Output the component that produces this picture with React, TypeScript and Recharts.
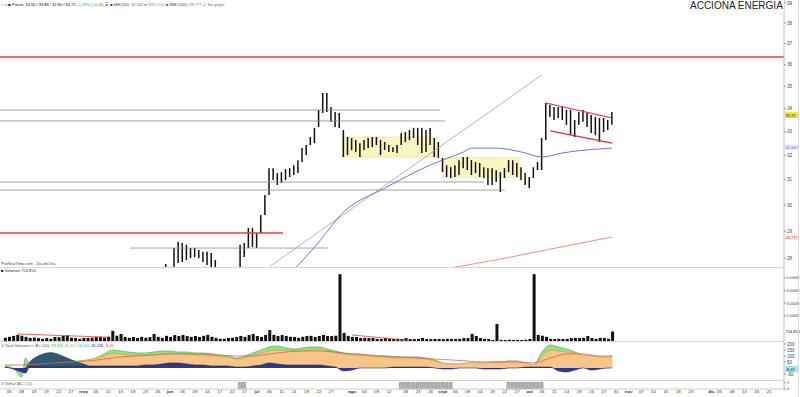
import React from "react"
import {
  Area,
  Bar,
  ComposedChart,
  Line,
  ReferenceArea,
  ReferenceLine,
  XAxis,
  YAxis,
} from "recharts"

const FONT = "Liberation Sans, Arial, sans-serif"
const X_DOMAIN: [number, number] = [-1.2, 188.6]

// ---- price bars (bar index 39 onwards; earlier bars sit below the visible range)
const PRICE_START = 39
const highs: (number | null)[] = [
  27.79, null, 28.37, 28.6, 28.56, 28.49, 28.37, 28.37, 28.3, 28.23, 28.23, 28.19, 27.93,
  null, null, null, null, null,
  28.49, 28.56, 29.12, 29.12, 28.93, 29.61, 30.39, 31.47, 31.47, 31.27, 31.31, 31.43, 31.47,
  31.59, 31.8, 32.3, 32.43, 32.77, 33.16, 33.94, 34.7, 34.7, 34.07, 33.85, 33.81, 33.07,
  32.77, 32.73, 32.64, 32.51, 32.64, 32.73, 32.77, 32.77, 32.64, 32.56, 32.43, 32.34, 32.43,
  32.94, 32.98, 33.07, 33.16, 33.16, 33.16, 33.07, 33.16, 32.73, 32.56,
  31.89, 31.59, 31.51, 31.59, 31.8, 31.93, 31.93, 31.8, 31.72, 31.68, 31.51, 31.47, 31.47,
  31.39, 31.31, 31.47, 31.8, 31.8, 31.68, 31.51, 31.27, 31.11, 31.51, 31.72, 32.73, 34.25,
  34.16, 34.07, 34.07, 34.07, 33.94, 33.94, 33.5, 33.85, 33.94, 33.81, 33.72, 33.63, 33.59,
  33.59, 33.5, 33.85,
]
const lows: (number | null)[] = [
  27.5, null, 27.6, 27.82, 27.86, 27.93, 28.0, 28.04, 28.0, 27.86, 27.75, 27.6, 27.6,
  null, null, null, null, null,
  27.6, 28.04, 28.37, 28.41, 28.37, 28.93, 29.61, 30.39, 30.99, 30.79, 30.87, 30.99, 31.11,
  31.19, 31.27, 31.72, 32.01, 32.43, 32.51, 33.2, 33.81, 33.85, 33.42, 33.2, 33.16, 31.93,
  32.01, 32.22, 32.14, 31.93, 32.22, 32.3, 32.34, 32.43, 32.01, 32.22, 32.14, 32.14, 32.1,
  32.43, 32.56, 32.64, 32.73, 32.43, 32.1, 32.14, 32.43, 31.93, 31.89,
  31.31, 31.11, 31.07, 31.11, 31.19, 31.47, 31.39, 31.19, 31.27, 31.11, 31.07, 30.79, 30.79,
  30.91, 30.51, 31.07, 31.31, 31.19, 31.11, 30.99, 30.79, 30.67, 31.07, 31.39, 31.39, 32.64,
  33.63, 33.5, 33.59, 33.5, 33.29, 32.85, 32.77, 33.29, 33.42, 33.2, 32.94, 32.85, 32.56,
  32.98, 33.07, 33.29,
]

// moving averages (read at a few bars)
const ma50Idx = [69, 71, 75, 82, 92, 103, 111, 113, 119, 125, 130, 135, 147]
const ma50Val = [27.45, 27.75, 28.41, 29.73, 30.67, 31.6, 32.14, 32.3, 32.3, 32.14, 31.93, 32.1, 32.3]
const ma200Idx = [104, 120, 132, 147]
const ma200Val = [27.55, 27.97, 28.33, 28.78]

const priceTicks = [28, 29, 30, 31, 32, 33, 34, 35, 36, 37, 38, 39]

// drawn annotations: [price, fromBar, toBar]
const redLevels = [
  [36.36, -1.2, 188.6],
  [28.93, -1.2, 67.3],
]
const grayLevels = [
  [33.94, -1.2, 105.3],
  [33.46, -1.2, 106.5],
  [30.91, -1.2, 116],
  [30.59, -1.2, 121],
  [28.37, 30.3, 78.2],
]
// [fromBar, fromPrice, toBar, toPrice]
const grayTrends = [[64.2, 27.71, 130, 35.52]]
const redChannel = [
  [131, 34.25, 147, 33.59],
  [132, 33.03, 147, 32.51],
]
// [fromBar, toBar, lowPrice, highPrice]
const yellowBoxes = [
  [81.6, 104.6, 31.93, 32.77],
  [106, 124.5, 31.1, 31.9],
]

// ---- volume (thousands)
const volumes = [
  260, 330, 410, 480, 420, 330, 250, 270, 230, 170, 240, 180, 320, 300, 390, 450, 260, 240, 170, 250,
  230, 260, 310, 330, 270, 340, 800, 420, 560, 330, 250, 320, 240, 330, 260, 310, 560, 330, 250, 410,
  330, 470, 400, 480, 390, 330, 400, 320, 410, 490, 330, 250, 170, 180, 240, 260, 320, 400, 330, 480,
  560, 400, 330, 480, 870, 480, 400, 470, 400, 330, 320, 250, 330, 400, 410, 320, 400, 480, 400, 390,
  420, 5300, 640, 410, 330, 320, 240, 250, 230, 240, 170, 160, 240, 170, 160, 180, 160, 230, 160, 150,
  170, 240, 160, 150, 170, 160, 150, 170, 160, 150, 170, 240, 230, 560, 400, 240, 170, 160, 80, 1350,
  90, 80, 100, 80, 90, 80, 100, 160, 5300, 480, 420, 330, 170, 160, 180, 160, 170, 240, 250, 230,
  250, 400, 240, 170, 250, 240, 170, 755,
]
const volTicks = [2000, 3000, 4000, 5000]
const volRedLines = [
  [3, 560, 25, 300],
  [84, 480, 98, 40],
]

// ---- accumulated volume indicator
const indIdx = [
  0, 2, 4, 5, 6, 8, 10, 12, 14, 16, 18, 20, 22, 24, 26, 28, 30, 32, 34, 36, 38, 40, 42, 44, 46, 48,
  50, 52, 54, 56, 58, 60, 62, 64, 66, 68, 70, 72, 74, 76, 78, 80, 82, 84, 86, 88, 90, 92, 94, 96, 98,
  100, 102, 104, 106, 108, 110, 112, 114, 116, 118, 120, 122, 124, 126, 128, 130, 132, 134, 136, 138,
  140, 142, 144, 146, 147,
]
const indGreen = [
  17, 0, -75, 83, 30, 50, 50, 50, 55, 55, 58, 67, 83, 117, 150, 142, 133, 125, 125, 133, 142, 142,
  133, 133, 125, 125, 117, 108, 100, 83, 100, 125, 150, 175, 183, 167, 158, 167, 175, 175, 158, 142,
  125, 117, 117, 108, 100, 100, 92, 92, 92, 92, 83, 67, 42, 33, 33, 42, 42, 42, 50, 50, 58, 58, 42,
  25, 133, 192, 175, 158, 133, 108, 100, 92, 92, 100,
]
const indOrange = [
  null, null, null, null, null, null, null, null, null, 50, 58, 67, 83, 100, 125, 117, 108, 108, 108,
  108, 117, 125, 117, 117, 108, 108, 100, 92, 92, 75, 83, 108, 125, 142, 150, 142, 142, 142, 150, 150,
  142, 125, 117, 108, 108, 100, 92, 92, 83, 83, 83, 83, 75, 58, 42, 33, 33, 42, 42, 42, 50, 50, 58, 58,
  42, 25, 100, 150, 142, 133, 125, 108, 100, 92, 92, 100,
]
const indNavy = [
  8, -8, -33, -42, 10, 10, 10, 10, 10, 10, 12, 17, 17, 17, 17, 17, 17, 17, 25, 25, 33, 42, 42, 33, 25,
  25, 17, 17, 17, 8, 8, 17, 25, 42, 33, 25, 25, 25, 25, 25, 17, 8, -25, -17, 0, 0, 0, 0, 8, 8, 8, 8, 8,
  0, -8, -8, 0, 0, 0, -8, -8, -8, 0, 0, 8, 8, 8, 8, -25, -33, -17, 0, -17, -8, 0, 0,
]
const tealIdx = [5, 6, 8, 10, 11, 12, 14, 16, 18, 20, 21]
const tealVal = [0, 50, 100, 125, 130, 125, 100, 70, 45, 20, 0]
const redIdx = [
  0, 4, 8, 12, 16, 20, 24, 28, 32, 36, 40, 44, 48, 52, 56, 60, 64, 68, 72, 76, 80, 84, 88, 92, 96,
  100, 104, 108, 112, 116, 120, 124, 128, 132, 136, 140, 144, 147,
]
const redVal = [
  25, 25, 33, 42, 50, 58, 75, 92, 100, 108, 117, 117, 117, 108, 100, 100, 117, 133, 142, 142, 133,
  117, 108, 100, 92, 83, 75, 67, 58, 50, 50, 50, 42, 83, 117, 117, 100, 100,
]
const indTicks = [-50, 50, 100, 150, 200]

// ---- signal bars
const signalIdx = [57, 58, 96, 97, 98, 99, 100, 101, 102, 103, 104, 105, 106, 107, 108, 122, 123, 124, 125, 126, 127, 128, 129, 130]

// ---- date axis
const tickIdx = [
  1, 4, 7, 10, 13, 16, 19, 22, 25, 28, 31, 34, 37, 40, 43, 46, 49, 52, 55, 58, 61, 64, 67, 70, 73, 76,
  79, 84, 87, 90, 93, 97, 100, 103, 106, 109, 112, 115, 118, 121, 124, 127, 130, 133, 136, 139, 142,
  145, 148, 151, 154, 157, 160, 163, 166, 171, 173, 176, 179, 182, 185,
]
const tickLab = [
  "05", "08", "13", "19", "22", "27", "may", "05", "10", "13", "18", "23", "26", "jun", "06", "09",
  "14", "17", "22", "27", "jul", "06", "11", "14", "19", "22", "27", "ago", "04", "09", "12", "18",
  "23", "26", "sept", "06", "09", "14", "19", "22", "27", "oct", "06", "11", "14", "19", "24", "27",
  "31", "nov", "07", "10", "15", "18", "23", "dic", "05", "08", "13", "16", "21",
]

const priceRows = volumes.map((v, i) => {
  const k = i - PRICE_START
  const hi = k >= 0 ? highs[k] : null
  const lo = k >= 0 ? lows[k] : null
  const m50 = ma50Idx.indexOf(i)
  const m200 = ma200Idx.indexOf(i)
  return {
    i,
    hl: hi != null && lo != null ? [lo, hi] : null,
    ma50: m50 >= 0 ? ma50Val[m50] : null,
    ma200: m200 >= 0 ? ma200Val[m200] : null,
  }
})
const volRows = volumes.map((vol, i) => ({ i, vol }))

const indMap = new Map<number, any>()
const put = (i: number, key: string, v: number | null) => {
  if (!indMap.has(i)) indMap.set(i, { i })
  indMap.get(i)[key] = v
}
indIdx.forEach((i, k) => {
  put(i, "green", indGreen[k])
  put(i, "orange", indOrange[k])
  put(i, "navy", indNavy[k])
})
tealIdx.forEach((i, k) => put(i, "teal", tealVal[k]))
redIdx.forEach((i, k) => put(i, "red", redVal[k]))
const indRows = Array.from(indMap.values()).sort((a, b) => a.i - b.i)
const sigRows = signalIdx.map((i) => ({ i, sig: 1 }))

const tickStyle = { fontSize: 4.6, fill: "#444", fontFamily: FONT }

function AxisTag({ viewBox, text, bg, color }: any) {
  if (!viewBox) return null
  const x = viewBox.x + viewBox.width + 1
  const y = viewBox.y
  return (
    <g>
      <rect x={x} y={y - 3} width={13} height={6} fill={bg} />
      <text x={x + 0.5} y={y + 1.6} fontSize={4} fill={color} fontFamily={FONT}>
        {text}
      </text>
    </g>
  )
}

function DateTick({ x, y, payload }: any) {
  const lab = tickLab[tickIdx.indexOf(payload.value)] ?? ""
  const isMonth = isNaN(Number(lab))
  return (
    <text x={x} y={y + 3.8} textAnchor="middle" fontSize={4.4} fontFamily={FONT}
      fontWeight={isMonth ? 700 : 400} fill="#333">
      {lab}
    </text>
  )
}

function PricePanel() {
  return (
    <ComposedChart width={800} height={267} data={priceRows} margin={{ top: 0, right: 0, bottom: 0, left: 0 }}>
      <XAxis type="number" dataKey="i" domain={X_DOMAIN} hide allowDataOverflow />
      <YAxis orientation="right" scale="log" domain={[27.68, 39.15]} allowDataOverflow ticks={priceTicks}
        interval={0} width={16} tick={tickStyle} tickSize={2} tickMargin={1}
        tickLine={{ stroke: "#999" }} axisLine={{ stroke: "#bbb" }} />
      {yellowBoxes.map(([x1, x2, y1, y2], k) => (
        <ReferenceArea key={"b" + k} x1={x1} x2={x2} y1={y1} y2={y2} fill="#fbf3b4" fillOpacity={0.85}
          stroke="#e2d88a" strokeWidth={0.5} ifOverflow="hidden" />
      ))}
      {grayLevels.map(([y, x1, x2], k) => (
        <ReferenceLine key={"g" + k} segment={[{ x: x1, y }, { x: x2, y }]} stroke="#8c8c8c" strokeWidth={0.8} ifOverflow="hidden" />
      ))}
      {redLevels.map(([y, x1, x2], k) => (
        <ReferenceLine key={"r" + k} segment={[{ x: x1, y }, { x: x2, y }]} stroke="#e8403a" strokeWidth={1.4} ifOverflow="hidden" />
      ))}
      {grayTrends.map(([x1, y1, x2, y2], k) => (
        <ReferenceLine key={"t" + k} segment={[{ x: x1, y: y1 }, { x: x2, y: y2 }]} stroke="#a0a0a8" strokeWidth={0.8} ifOverflow="hidden" />
      ))}
      {redChannel.map(([x1, y1, x2, y2], k) => (
        <ReferenceLine key={"c" + k} segment={[{ x: x1, y: y1 }, { x: x2, y: y2 }]} stroke="#e8283a" strokeWidth={1.1} ifOverflow="hidden" />
      ))}
      <Line dataKey="ma50" type="monotone" connectNulls dot={false} stroke="#6464d8" strokeWidth={0.9} isAnimationActive={false} />
      <Line dataKey="ma200" type="monotone" connectNulls dot={false} stroke="#f08070" strokeWidth={0.9} isAnimationActive={false} />
      <Bar dataKey="hl" barSize={1.5} fill="#111" isAnimationActive={false} />
      <ReferenceLine y={33.72} stroke="none" label={<AxisTag text="33,72" bg="#f5e62a" color="#222" />} />
      <ReferenceLine y={32.35} stroke="none" label={<AxisTag text="32,347" bg="#eef" color="#55c" />} />
      <ReferenceLine y={28.78} stroke="none" label={<AxisTag text="28,777" bg="#fff0f0" color="#e33" />} />
    </ComposedChart>
  )
}

function VolumePanel() {
  return (
    <ComposedChart width={800} height={74} data={volRows} margin={{ top: 1, right: 0, bottom: 0, left: 0 }}>
      <XAxis type="number" dataKey="i" domain={X_DOMAIN} hide allowDataOverflow />
      <YAxis orientation="right" domain={[0, 5790]} allowDataOverflow ticks={volTicks} interval={0} width={16}
        tick={{ ...tickStyle, fontSize: 3.9 }} tickSize={2} tickMargin={0.5} tickFormatter={(v) => `${v / 1000}.000M`}
        tickLine={{ stroke: "#999" }} axisLine={{ stroke: "#bbb" }} />
      <Bar dataKey="vol" barSize={3} fill="#111" isAnimationActive={false} />
      {volRedLines.map(([x1, y1, x2, y2], k) => (
        <ReferenceLine key={k} segment={[{ x: x1, y: y1 }, { x: x2, y: y2 }]} stroke="#e83a3a" strokeWidth={0.8} ifOverflow="hidden" />
      ))}
      <ReferenceLine y={755} stroke="none" label={<AxisTag text="754.853" bg="#fff" color="#222" />} />
    </ComposedChart>
  )
}

function IndicatorPanel() {
  return (
    <ComposedChart width={800} height={38} data={indRows} margin={{ top: 0, right: 0, bottom: 0, left: 0 }}>
      <XAxis type="number" dataKey="i" domain={X_DOMAIN} hide allowDataOverflow />
      <YAxis orientation="right" domain={[-100, 216.7]} allowDataOverflow ticks={indTicks} interval={0} width={16}
        tick={tickStyle} tickSize={2} tickMargin={1} tickLine={{ stroke: "#999" }} axisLine={{ stroke: "#bbb" }} />
      <Area dataKey="green" type="monotone" connectNulls fill="#8fe48a" fillOpacity={1} stroke="#45b845" strokeWidth={0.7} isAnimationActive={false} />
      <Area dataKey="orange" type="monotone" connectNulls fill="#f7c585" fillOpacity={1} stroke="#e0963c" strokeWidth={0.7} isAnimationActive={false} />
      <Area dataKey="teal" type="monotone" connectNulls fill="#2b5c6c" fillOpacity={1} stroke="#234b5a" strokeWidth={0.5} isAnimationActive={false} />
      <Area dataKey="navy" type="monotone" connectNulls fill="#2e3890" fillOpacity={1} stroke="#1f2770" strokeWidth={0.6} isAnimationActive={false} />
      <Line dataKey="red" type="monotone" connectNulls dot={false} stroke="#ec5a5a" strokeWidth={0.8} isAnimationActive={false} />
      <ReferenceLine y={-8} stroke="none" label={<AxisTag text="-8,45" bg="#9fe6ee" color="#226" />} />
    </ComposedChart>
  )
}

function SignalPanel() {
  return (
    <ComposedChart width={800} height={17} data={sigRows} margin={{ top: 1, right: 0, bottom: 0, left: 0 }}>
      <XAxis type="number" dataKey="i" domain={X_DOMAIN} allowDataOverflow ticks={tickIdx} interval={0}
        height={8} tick={<DateTick />} tickLine={false} tickSize={0} tickMargin={0} axisLine={{ stroke: "#ccc" }} />
      <YAxis orientation="right" domain={[0, 1.2]} ticks={[0, 1]} interval={0} width={16}
        tick={{ ...tickStyle, fontSize: 4 }} tickSize={2} tickMargin={1} tickLine={{ stroke: "#999" }} axisLine={{ stroke: "#bbb" }} />
      <Bar dataKey="sig" barSize={3.2} fill="#b5b5b5" stroke="#7a7a7a" strokeWidth={0.5} isAnimationActive={false} />
    </ComposedChart>
  )
}

const sep = (top: number) => (
  <div style={{ position: "absolute", left: 0, top, width: 784, height: 1, background: "#d6d6d6" }} />
)

export default function App() {
  return (
    <div style={{ position: "absolute", left: 0, top: 0, width: 800, height: 397, background: "#fff", overflow: "hidden" }}>
      <div style={{ position: "absolute", left: 0, top: 0 }}><PricePanel /></div>
      <div style={{ position: "absolute", left: 0, top: 267 }}><VolumePanel /></div>
      <div style={{ position: "absolute", left: 0, top: 342 }}><IndicatorPanel /></div>
      <div style={{ position: "absolute", left: 0, top: 380 }}><SignalPanel /></div>
      {sep(267)}
      {sep(341)}
      {sep(380)}
      <div style={{ position: "absolute", left: 798, top: 0, width: 1, height: 397, background: "#ddd" }} />
      <div style={{ position: "absolute", left: 689, top: 0, fontFamily: FONT, fontSize: 10, lineHeight: "12px", color: "#222", background: "#fff", padding: "0 1px" }}>
        ACCIONA ENERGIA
      </div>
      <svg width={800} height={397} style={{ position: "absolute", left: 0, top: 0, pointerEvents: "none" }}>
        <g fontFamily={FONT} fontSize={4}>
          <text x={1} y={5.5}>
            <tspan fill="#c44">✓</tspan>
            <tspan fill="#6a6"> ⌀ </tspan>
            <tspan fill="#000">■ Precio: 33,00 / 33,86 / 32,90 / 33,72</tspan>
            <tspan fill="#2a2"> +1,39% (+0,46)</tspan>
            <tspan fill="#555"> ☰ </tspan>
            <tspan fill="#22a">■</tspan>
            <tspan fill="#333"> MM (50): </tspan>
            <tspan fill="#55c">32,347</tspan>
            <tspan fill="#999"> ■ MM (200)</tspan>
            <tspan fill="#d22"> ■</tspan>
            <tspan fill="#333"> MM (200): </tspan>
            <tspan fill="#e44">28,777</tspan>
            <tspan fill="#666"> ⓘ Sin grupo</tspan>
          </text>
          <text x={1} y={265} fill="#444">ProRealTime.com - Día de Día</text>
          <text x={1} y={271.5}>
            <tspan fill="#000">■</tspan>
            <tspan fill="#333"> Volumen 754.853</tspan>
          </text>
          <text x={1} y={347}>
            <tspan fill="#555">⊙ Total Volumen c. AC (10): </tspan>
            <tspan fill="#3b3">93,345</tspan>
            <tspan fill="#d9984a"> 80,457</tspan>
            <tspan fill="#2bc"> 56,450</tspan>
            <tspan fill="#226"> 45,245</tspan>
            <tspan fill="#e33"> -8,45</tspan>
          </text>
          <text x={1} y={385} fill="#555">⊙ Señal (AC.) (1)</text>
        </g>
      </svg>
    </div>
  )
}
